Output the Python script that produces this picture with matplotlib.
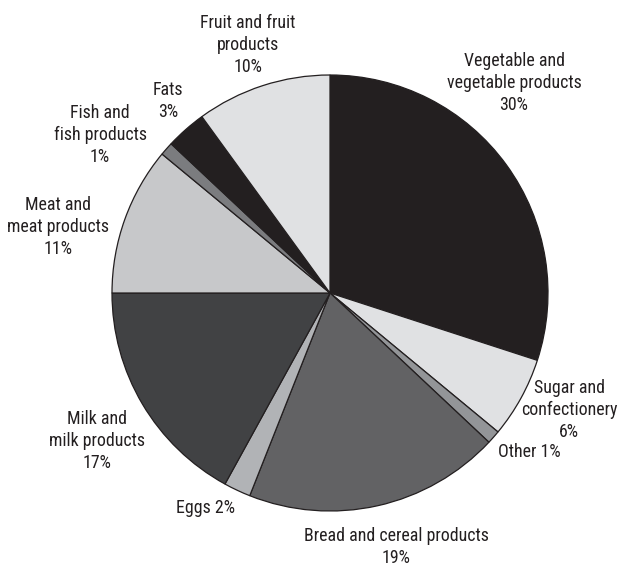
import matplotlib
matplotlib.use('Agg')
import matplotlib.pyplot as plt

# Share of household food spending by group
categories = ['Vegetable and\nvegetable products', 'Sugar and\nconfectionery', 'Other',
              'Bread and cereal products', 'Eggs', 'Milk and\nmilk products',
              'Meat and\nmeat products', 'Fish and\nfish products', 'Fats',
              'Fruit and fruit\nproducts']
shares = [30, 6, 1, 19, 2, 17, 11, 1, 3, 10]
colors = ['#231f20', '#e0e1e3', '#939598', '#626264', '#b1b3b6',
          '#414244', '#c7c8ca', '#7b7c7f', '#231f20', '#e0e1e3']

# label centres in pixels (x from left, y from top) and whether the % goes inline
label_pos = [(514, 83), (569, 410), (529, 452), (396, 547), (206, 508),
             (97, 441), (58, 227), (100, 135), (168, 101), (248, 45)]
inline = [False, False, True, False, True, False, False, False, False, False]

FONT = ['Roboto Condensed', 'Archivo Narrow', 'Liberation Sans', 'DejaVu Sans']

W, H = 624, 566
fig = plt.figure(figsize=(W / 100, H / 100), dpi=100)
ax = fig.add_axes([0, 0, 1, 1])

ax.pie(shares, colors=colors, startangle=90, counterclock=False,
       center=(330, H - 293), radius=218, frame=True,
       wedgeprops=dict(edgecolor='#231f20', linewidth=0.9))
ax.set_xlim(0, W)
ax.set_ylim(0, H)
ax.set_aspect('equal')
ax.axis('off')

for name, val, (x, y), one_line in zip(categories, shares, label_pos, inline):
    txt = f'{name} {val}%' if one_line else f'{name}\n{val}%'
    ax.text(x, H - y, txt, ha='center', va='center', fontsize=12.9,
            family=FONT, color='#231f20', linespacing=1.28)

fig.savefig('out.png', dpi=100, facecolor='white')
